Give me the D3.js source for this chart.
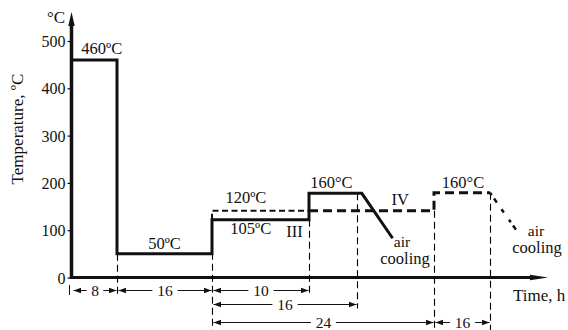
<!DOCTYPE html>
<html><head><meta charset="utf-8">
<script src="https://cdn.jsdelivr.net/npm/d3@7"></script>
<style>
body{margin:0;background:#fff;}
text{font-family:"Liberation Serif","Times New Roman",serif;fill:#111;}
</style></head>
<body><svg id="c" width="568" height="330"></svg>
<script>
// ---- data ----
const timeBreaks = [0, 8, 24, 34, 40, 48, 64, 80];        // schematic time axis (h)
const yTicks = [0, 100, 200, 300, 400, 500];
// regime III (solid)
const regimeIII = [[0,0],[0,460],[8,460],[8,50],[24,50],[24,122],[34,122],[34,178],[40.5,178],[43.7,83]];
// regime IV (dashed)
const regimeIVa = [[24,122],[24,141],[34,141]];
const regimeIVb = [[34,141],[48,141],[48,179],[64,179]];
const regimeIVcool = [[64,179],[72,95]];
// guide verticals: [time, top temp, bottom row]
const guides = [[8,50,0],[24,122,2],[34,122,0],[40,178,1],[48,141,2],[64,179,2]];
// dimension intervals: [from, to, label, row]
const dims = [[0,8,"8",0],[8,24,"16",0],[24,34,"10",0],[24,40,"16",1],[24,48,"24",2],[48,64,"16",2]];
const labels = [
  ["460ºC",0.5,460],["50ºC",16,50],["120ºC",27.5,141],["105ºC",28,122],["III",32.5,122],
  ["160°C",36.8,178],["IV",44.5,141],["160°C",56.3,179]
];
const coolingNotes = [["air","cooling",402,405,247],["air","cooling",536,537,236]];

// ---- drawing ----
const svg = d3.select("#c");
const x = d3.scaleLinear().domain(timeBreaks).range([71.5,117,212,309,357,434,490,546]);
const y = d3.scaleLinear().domain([0,500]).range([277.5,41]);
const rowY = [290.5, 304.5, 322.5];
const line = d3.line().x(d=>x(d[0])).y(d=>y(d[1]));

// axes
const yAxis = svg.append("g").attr("transform",`translate(${x(0)},0)`)
  .call(d3.axisLeft(y).tickValues(yTicks).tickSize(4).tickSizeOuter(0).tickPadding(2));
yAxis.select(".domain").remove();
yAxis.selectAll("text").style("font-size","16px").attr("font-family","Liberation Serif").attr("dy","0.35em").attr("fill","#111");
yAxis.selectAll("line").attr("stroke","#111").attr("stroke-width",1.2);

svg.append("line").attr("x1",x(0)).attr("x2",x(0)).attr("y1",y(0)+1.5).attr("y2",22)
  .attr("stroke","#111").attr("stroke-width",3.5);
svg.append("path").attr("d",`M${x(0)-3.2},26 L${x(0)},12 L${x(0)+3.2},26Z`).attr("fill","#111");
svg.append("line").attr("x1",x(0)).attr("x2",535).attr("y1",y(0)).attr("y2",y(0))
  .attr("stroke","#111").attr("stroke-width",3);
svg.append("path").attr("d",`M530,${y(0)-2.8} L548,${y(0)} L530,${y(0)+2.8}Z`).attr("fill","#111");

// guides
guides.forEach(g=>{
  const gx = Math.round(x(g[0]))+0.5;
  svg.append("line").attr("x1",gx).attr("x2",gx)
    .attr("y1",y(g[1])).attr("y2",rowY[g[2]]+ (g[2]===2?8:4))
    .attr("stroke","#000").attr("stroke-width",1.1).attr("stroke-dasharray","7,4");
});

// regime lines
svg.append("path").attr("d",line(regimeIVa)).attr("fill","none").attr("stroke","#111")
  .attr("stroke-width",2).attr("stroke-dasharray","6,3.5");
svg.append("path").attr("d",line(regimeIVb)).attr("fill","none").attr("stroke","#111")
  .attr("stroke-width",3).attr("stroke-dasharray","9,5");
svg.append("path").attr("d",line(regimeIVcool)).attr("fill","none").attr("stroke","#111")
  .attr("stroke-width",2.5).attr("stroke-dasharray","3,4,5,8,4,9");
svg.append("path").attr("d",line(regimeIII)).attr("fill","none").attr("stroke","#111")
  .attr("stroke-width",3).attr("stroke-linejoin","miter");

// dimension lines
function arrow(px, py, dir){ // dir: +1 points right, -1 points left
  svg.append("path").attr("d",`M${px},${py} L${px-dir*7.5},${py-2.8} L${px-dir*7.5},${py+2.8}Z`).attr("fill","#111");
}
dims.forEach(d=>{
  const x1 = Math.round(x(d[0]))+1.5, x2 = Math.round(x(d[1]))-0.5, yy = rowY[d[3]];
  const cx = (x1+x2)/2, half = d[2].length*4.3+4;
  svg.append("line").attr("x1",x1).attr("x2",cx-half).attr("y1",yy).attr("y2",yy).attr("stroke","#111").attr("stroke-width",1);
  svg.append("line").attr("x1",cx+half).attr("x2",x2).attr("y1",yy).attr("y2",yy).attr("stroke","#111").attr("stroke-width",1);
  arrow(x1,yy,-1); arrow(x2,yy,1);
  svg.append("text").attr("x",cx).attr("y",yy+5).attr("text-anchor","middle").style("font-size","15.5px").text(d[2]);
});
svg.append("line").attr("x1",69.5).attr("x2",69.5).attr("y1",285).attr("y2",295).attr("stroke","#111").attr("stroke-width",1);

// labels
const lab = svg.append("g").style("font-size","16.5px");
const off = {"460ºC":[7,-6],"50ºC":[0,-5],"120ºC":[0,-8],"105ºC":[0,14],"III":[0,17],"160°C":[0,-5],"IV":[0,-6]};
labels.forEach(l=>{
  const o = off[l[0]];
  lab.append("text").attr("x",x(l[1])+o[0]).attr("y",y(l[2])+o[1])
    .attr("text-anchor", l[0]==="460ºC"?"start":"middle").text(l[0]);
});
coolingNotes.forEach(c=>{
  const t = lab.append("text").attr("text-anchor","middle").style("font-size","15.5px");
  t.append("tspan").attr("x",c[2]).attr("y",c[4]).text(c[0]);
  t.append("tspan").attr("x",c[3]).attr("y",c[4]+17).style("font-size","16.5px").text(c[1]);
});
svg.append("text").attr("x",513).attr("y",301).style("font-size","17px").text("Time, h");
svg.append("text").attr("x",47).attr("y",23).style("font-size","17px").text("°C");
svg.append("text").attr("transform","translate(23,129) rotate(-90)").attr("text-anchor","middle")
  .style("font-size","17px").text("Temperature, ºC");
</script></body></html>
